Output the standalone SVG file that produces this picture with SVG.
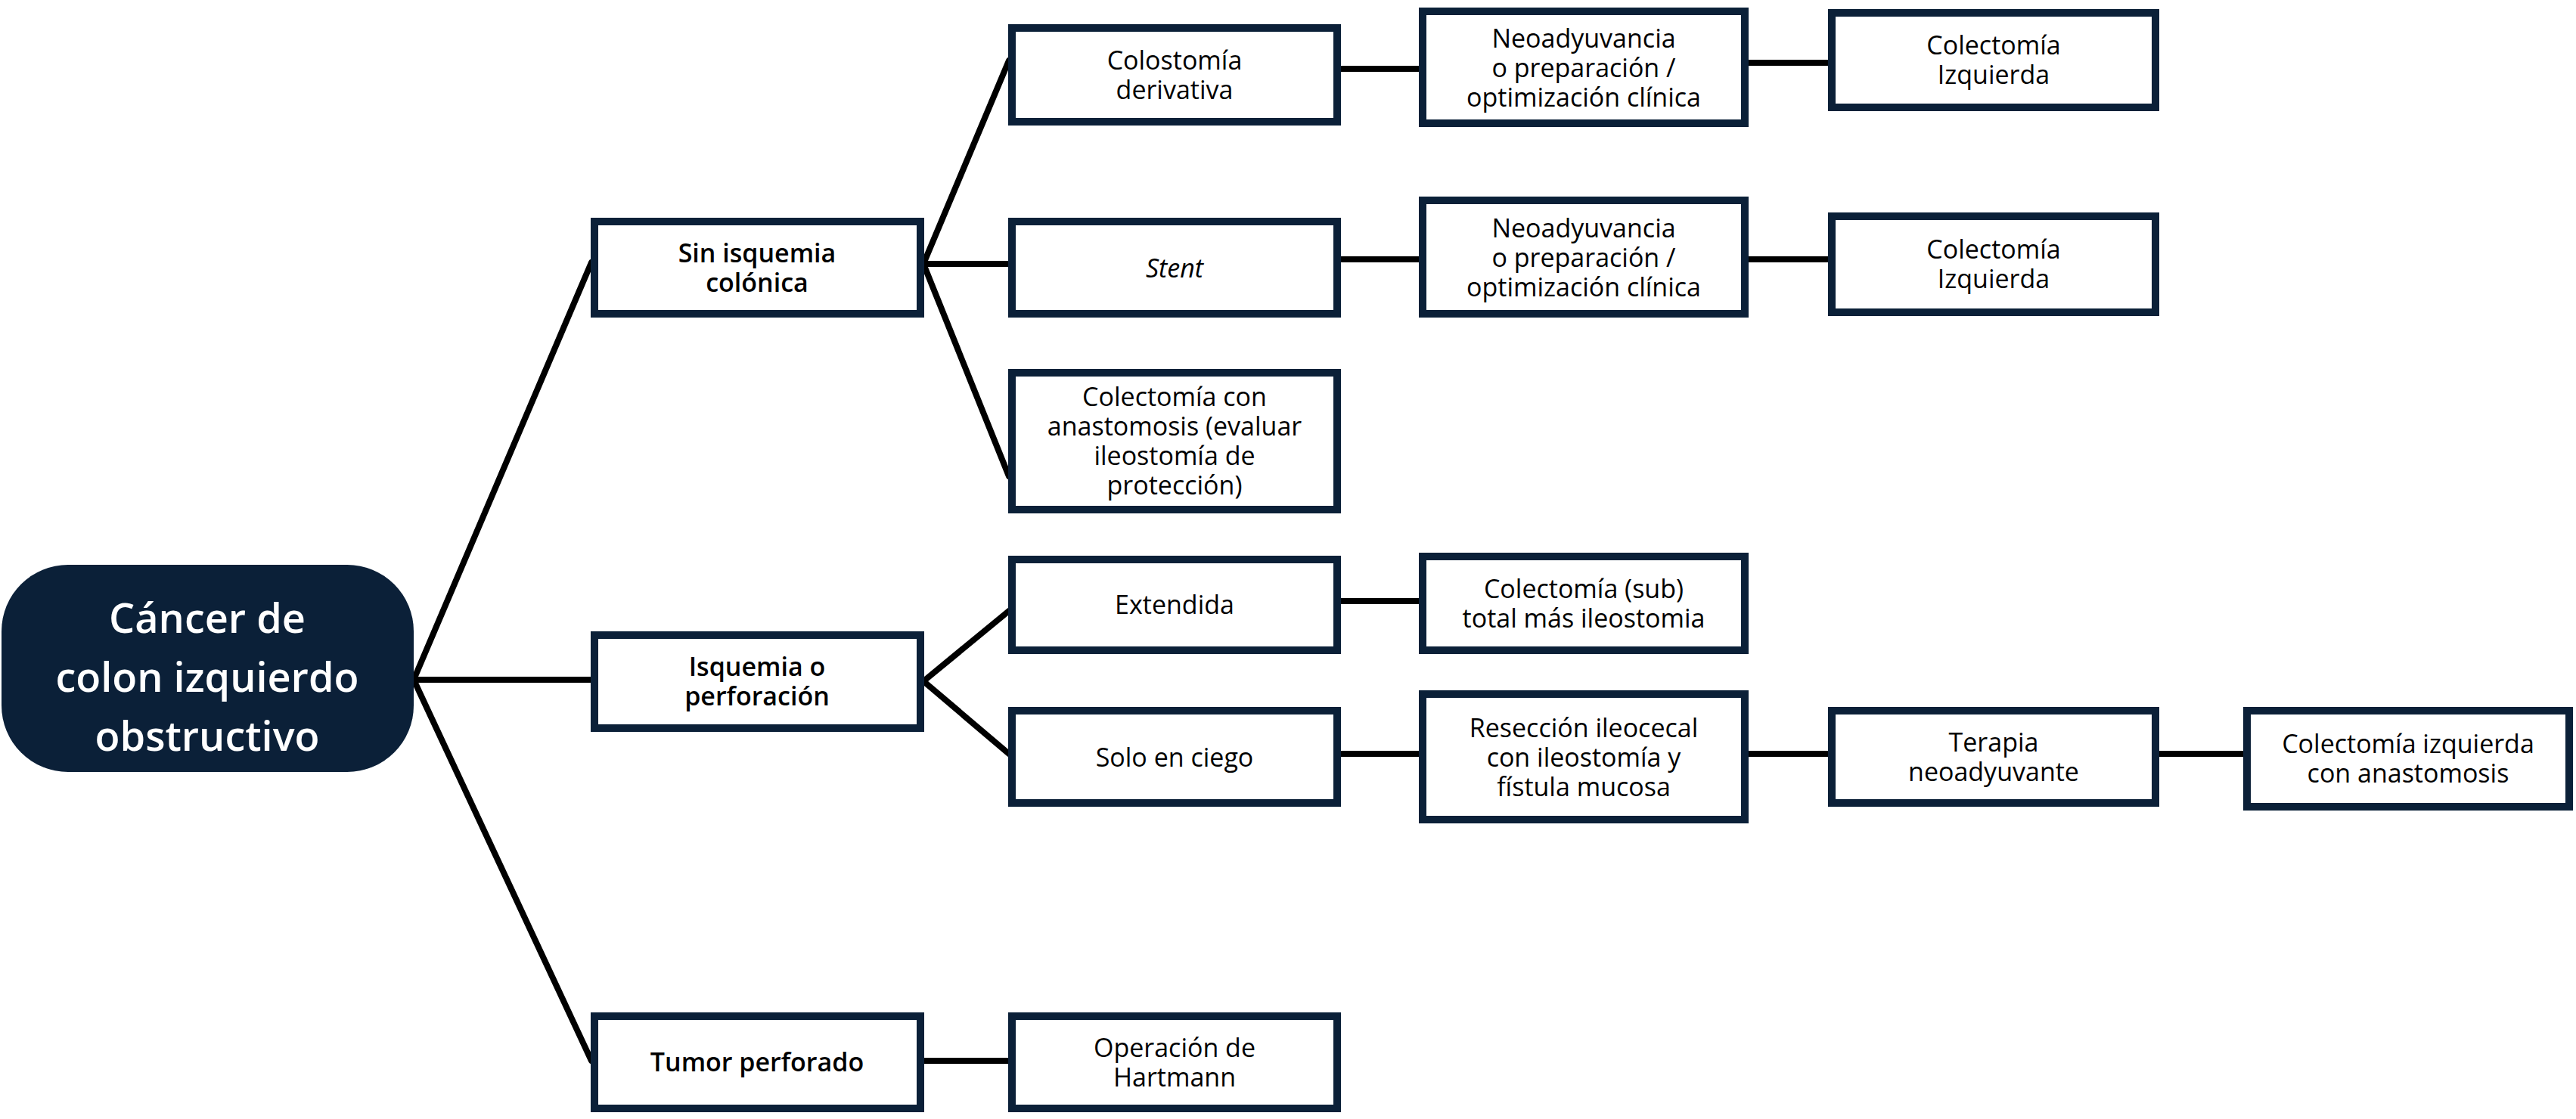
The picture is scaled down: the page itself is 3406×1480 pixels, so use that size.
<svg xmlns="http://www.w3.org/2000/svg" width="3406" height="1480" viewBox="0 0 3406 1480">
<style>
rect.b{fill:#fff;stroke:#0b2038;stroke-width:10}
text{font-family:"Open Sans","Noto Sans",sans-serif;font-size:34px;fill:#000;text-anchor:middle}
.bd{font-weight:600}
.c line{stroke:#000;stroke-width:8;stroke-linecap:round}
</style>
<rect width="3406" height="1480" fill="#fff"/>
<g class="c">
<line x1="547" y1="899" x2="782" y2="347"/><line x1="547" y1="899" x2="782" y2="899"/><line x1="547" y1="899" x2="782" y2="1403"/>
<line x1="1221" y1="349" x2="1334" y2="80"/><line x1="1221" y1="349" x2="1334" y2="349"/><line x1="1221" y1="349" x2="1334" y2="630"/>
<line x1="1221" y1="901" x2="1334" y2="808"/><line x1="1221" y1="901" x2="1334" y2="997"/>
<line x1="1221" y1="1403" x2="1334" y2="1403"/>
<line x1="1772" y1="91" x2="1877" y2="91"/><line x1="1772" y1="343" x2="1877" y2="343"/>
<line x1="2311" y1="83" x2="2418" y2="83"/><line x1="2311" y1="343" x2="2418" y2="343"/>
<line x1="1772" y1="795" x2="1877" y2="795"/><line x1="1772" y1="997" x2="1877" y2="997"/>
<line x1="2311" y1="997" x2="2418" y2="997"/><line x1="2854" y1="997" x2="2967" y2="997"/>
</g>
<g id="root"><rect x="2" y="747" width="545" height="274" rx="88" fill="#0b2038"/>
<text style="font-size:54px;fill:#fff" class="bd"><tspan x="274" y="837">Cáncer de</tspan><tspan x="274" y="915">colon izquierdo</tspan><tspan x="274" y="993">obstructivo</tspan></text></g>
<g id="sin"><rect class="b" x="786" y="293" width="431" height="122"/><text class="bd"><tspan x="1001" y="347">Sin isquemia</tspan><tspan x="1001" y="386">colónica</tspan></text></g>
<g id="isq"><rect class="b" x="786" y="840" width="431" height="123"/><text class="bd"><tspan x="1001" y="894">Isquemia o</tspan><tspan x="1001" y="933">perforación</tspan></text></g>
<g id="tumor"><rect class="b" x="786" y="1344" width="431" height="122"/><text class="bd" x="1001" y="1417">Tumor perforado</text></g>
<g id="colost"><rect class="b" x="1338" y="37" width="430" height="124"/><text><tspan x="1553" y="92">Colostomía</tspan><tspan x="1553" y="131">derivativa</tspan></text></g>
<g id="stent"><rect class="b" x="1338" y="293" width="430" height="122"/><text x="1553" y="367" font-style="italic">Stent</text></g>
<g id="colcon"><rect class="b" x="1338" y="493" width="430" height="181"/><text><tspan x="1553" y="537">Colectomía con</tspan><tspan x="1553" y="576">anastomosis (evaluar</tspan><tspan x="1553" y="615">ileostomía de</tspan><tspan x="1553" y="654">protección)</tspan></text></g>
<g id="ext"><rect class="b" x="1338" y="740" width="430" height="120"/><text x="1553" y="812">Extendida</text></g>
<g id="solo"><rect class="b" x="1338" y="940" width="430" height="122"/><text x="1553" y="1014">Solo en ciego</text></g>
<g id="hart"><rect class="b" x="1338" y="1344" width="430" height="122"/><text><tspan x="1553" y="1398">Operación de</tspan><tspan x="1553" y="1437">Hartmann</tspan></text></g>
<g id="neo1"><rect class="b" x="1881" y="15" width="426" height="148"/><text><tspan x="2094" y="63">Neoadyuvancia</tspan><tspan x="2094" y="102">o preparación /</tspan><tspan x="2094" y="141">optimización clínica</tspan></text></g>
<g id="neo2"><rect class="b" x="1881" y="265" width="426" height="150"/><text><tspan x="2094" y="314">Neoadyuvancia</tspan><tspan x="2094" y="353">o preparación /</tspan><tspan x="2094" y="392">optimización clínica</tspan></text></g>
<g id="colsub"><rect class="b" x="1881" y="736" width="426" height="124"/><text><tspan x="2094" y="791">Colectomía (sub)</tspan><tspan x="2094" y="830">total más ileostomia</tspan></text></g>
<g id="resec"><rect class="b" x="1881" y="918" width="426" height="166"/><text><tspan x="2094" y="975">Resección ileocecal</tspan><tspan x="2094" y="1014">con ileostomía y</tspan><tspan x="2094" y="1053">fístula mucosa</tspan></text></g>
<g id="izq1"><rect class="b" x="2422" y="17" width="428" height="125"/><text><tspan x="2636" y="72">Colectomía</tspan><tspan x="2636" y="111">Izquierda</tspan></text></g>
<g id="izq2"><rect class="b" x="2422" y="286" width="428" height="127"/><text><tspan x="2636" y="342">Colectomía</tspan><tspan x="2636" y="381">Izquierda</tspan></text></g>
<g id="terapia"><rect class="b" x="2422" y="940" width="428" height="122"/><text><tspan x="2636" y="994">Terapia</tspan><tspan x="2636" y="1033">neoadyuvante</tspan></text></g>
<g id="izqan"><rect class="b" x="2971" y="940" width="426" height="127"/><text><tspan x="3184" y="996">Colectomía izquierda</tspan><tspan x="3184" y="1035">con anastomosis</tspan></text></g>
</svg>
